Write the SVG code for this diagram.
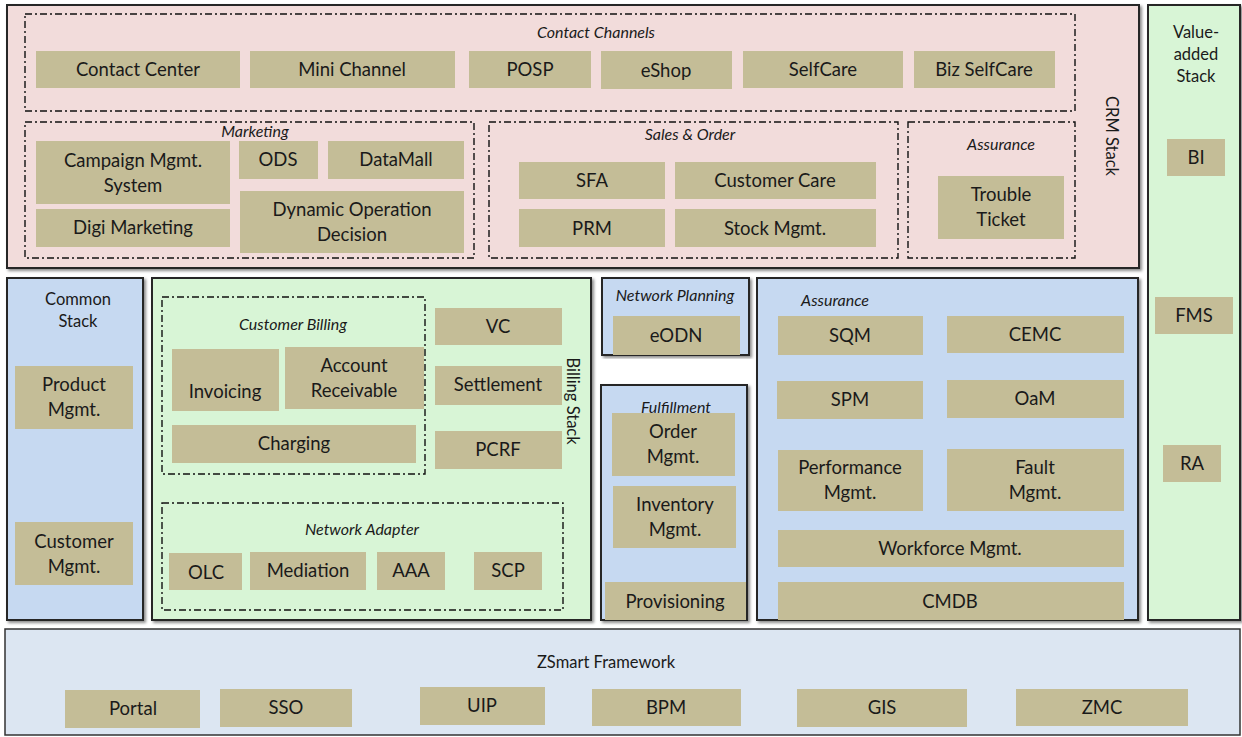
<svg xmlns="http://www.w3.org/2000/svg" width="1242" height="737" viewBox="0 0 1242 737">
  <defs>
    <filter id="shadow" x="-5%" y="-5%" width="110%" height="110%">
      <feDropShadow dx="2" dy="2" stdDeviation="1.5" flood-color="#000" flood-opacity="0.45"/>
    </filter>
    <style>
      .panel { stroke: #262626; stroke-width: 2; filter: url(#shadow); }
      .crm { fill: #f2dcdb; }
      .green { fill: #d8f5d6; }
      .blue { fill: #c6d9f1; }
      .group { fill: none; stroke: #111; stroke-width: 1.4; stroke-dasharray: 7 3 2 3; }
      .box { fill: #c4bd97; }
      .t { font-family: Lato, "Open Sans", "Liberation Sans", sans-serif; font-size: 18.5px; fill: #1a1a1a; text-anchor: middle; }
      .lbl { font-family: Lato, "Open Sans", "Liberation Sans", sans-serif; font-size: 16px; font-style: italic; fill: #1a1a1a; text-anchor: middle; }
      .st { font-family: Lato, "Open Sans", "Liberation Sans", sans-serif; font-size: 16.5px; fill: #1a1a1a; text-anchor: middle; }
    </style>
  </defs>

  <!-- CRM stack -->
  <g id="crm-stack">
    <rect class="panel crm" x="7" y="5" width="1132" height="263"/>
    <text class="st" transform="translate(1106,136) rotate(90)">CRM Stack</text>
  </g>
  <g id="contact-channels">
    <rect class="group" x="25" y="14" width="1050" height="97"/>
    <text class="lbl" x="596" y="38">Contact Channels</text>
  </g>
  <g id="contact-center"><rect class="box" x="36" y="51" width="204" height="37"/><text class="t" x="138" y="76">Contact Center</text></g>
  <g id="mini-channel"><rect class="box" x="250" y="51" width="205" height="37"/><text class="t" x="352" y="76">Mini Channel</text></g>
  <g id="posp"><rect class="box" x="469" y="51" width="122" height="37"/><text class="t" x="530" y="76">POSP</text></g>
  <g id="eshop"><rect class="box" x="601" y="51" width="131" height="38"/><text class="t" x="666" y="77">eShop</text></g>
  <g id="selfcare"><rect class="box" x="743" y="51" width="160" height="37"/><text class="t" x="823" y="76">SelfCare</text></g>
  <g id="biz-selfcare"><rect class="box" x="914" y="51" width="141" height="37"/><text class="t" x="984" y="76">Biz SelfCare</text></g>

  <g id="marketing">
    <rect class="group" x="25" y="122" width="449" height="136"/>
    <text class="lbl" x="255" y="137">Marketing</text>
  </g>
  <g id="campaign"><rect class="box" x="36" y="141" width="194" height="63"/><text class="t" x="133" y="167">Campaign Mgmt.</text><text class="t" x="133" y="192">System</text></g>
  <g id="ods"><rect class="box" x="239" y="141" width="79" height="38"/><text class="t" x="278" y="166">ODS</text></g>
  <g id="datamall"><rect class="box" x="328" y="141" width="136" height="38"/><text class="t" x="396" y="166">DataMall</text></g>
  <g id="digi-marketing"><rect class="box" x="36" y="209" width="194" height="38"/><text class="t" x="133" y="234">Digi Marketing</text></g>
  <g id="dod"><rect class="box" x="240" y="191" width="224" height="62"/><text class="t" x="352" y="216">Dynamic  Operation</text><text class="t" x="352" y="241">Decision</text></g>

  <g id="sales-order">
    <rect class="group" x="489" y="122" width="409" height="136"/>
    <text class="lbl" x="690" y="140">Sales &amp; Order</text>
  </g>
  <g id="sfa"><rect class="box" x="519" y="162" width="146" height="37"/><text class="t" x="592" y="187">SFA</text></g>
  <g id="customer-care"><rect class="box" x="675" y="162" width="201" height="37"/><text class="t" x="775" y="187">Customer Care</text></g>
  <g id="prm"><rect class="box" x="519" y="209" width="146" height="38"/><text class="t" x="592" y="235">PRM</text></g>
  <g id="stock"><rect class="box" x="675" y="209" width="201" height="38"/><text class="t" x="775" y="235">Stock Mgmt.</text></g>

  <g id="crm-assurance">
    <rect class="group" x="908" y="122" width="167" height="136"/>
    <text class="lbl" x="1001" y="150">Assurance</text>
  </g>
  <g id="trouble-ticket"><rect class="box" x="938" y="176" width="126" height="63"/><text class="t" x="1001" y="201">Trouble</text><text class="t" x="1001" y="226">Ticket</text></g>

  <!-- Value-added stack -->
  <g id="value-added-stack">
    <rect class="panel green" x="1148" y="5" width="92" height="615"/>
    <text class="st" x="1196" y="38">Value-</text>
    <text class="st" x="1196" y="60">added</text>
    <text class="st" x="1196" y="82">Stack</text>
  </g>
  <g id="bi"><rect class="box" x="1167" y="139" width="58" height="37"/><text class="t" x="1196" y="164">BI</text></g>
  <g id="fms"><rect class="box" x="1155" y="297" width="78" height="37"/><text class="t" x="1194" y="322">FMS</text></g>
  <g id="ra"><rect class="box" x="1163" y="445" width="58" height="37"/><text class="t" x="1192" y="470">RA</text></g>

  <!-- Common stack -->
  <g id="common-stack">
    <rect class="panel blue" x="7" y="278" width="136" height="342"/>
    <text class="st" x="78" y="305">Common</text>
    <text class="st" x="78" y="327">Stack</text>
  </g>
  <g id="product-mgmt"><rect class="box" x="15" y="366" width="118" height="63"/><text class="t" x="74" y="391">Product</text><text class="t" x="74" y="416">Mgmt.</text></g>
  <g id="customer-mgmt"><rect class="box" x="15" y="522" width="118" height="63"/><text class="t" x="74" y="548">Customer</text><text class="t" x="74" y="573">Mgmt.</text></g>

  <!-- Billing stack -->
  <g id="billing-stack">
    <rect class="panel green" x="152" y="278" width="439" height="342"/>
    <text class="st" transform="translate(567,401) rotate(90)">Billing Stack</text>
  </g>
  <g id="customer-billing">
    <rect class="group" x="162" y="297" width="263" height="177"/>
    <text class="lbl" x="293" y="330">Customer Billing</text>
  </g>
  <g id="invoicing"><rect class="box" x="172" y="349" width="107" height="62"/><text class="t" x="225" y="398">Invoicing</text></g>
  <g id="account-receivable"><rect class="box" x="285" y="347" width="139" height="62"/><text class="t" x="354" y="372">Account</text><text class="t" x="354" y="397">Receivable</text></g>
  <g id="charging"><rect class="box" x="172" y="425" width="244" height="38"/><text class="t" x="294" y="450">Charging</text></g>
  <g id="vc"><rect class="box" x="435" y="308" width="127" height="37"/><text class="t" x="498" y="333">VC</text></g>
  <g id="settlement"><rect class="box" x="435" y="366" width="127" height="39"/><text class="t" x="498" y="391">Settlement</text></g>
  <g id="pcrf"><rect class="box" x="435" y="431" width="127" height="38"/><text class="t" x="498" y="456">PCRF</text></g>

  <g id="network-adapter">
    <rect class="group" x="162" y="503" width="401" height="107"/>
    <text class="lbl" x="362" y="535">Network Adapter</text>
  </g>
  <g id="olc"><rect class="box" x="169" y="553" width="73" height="37"/><text class="t" x="206" y="579">OLC</text></g>
  <g id="mediation"><rect class="box" x="250" y="552" width="116" height="38"/><text class="t" x="308" y="577">Mediation</text></g>
  <g id="aaa"><rect class="box" x="377" y="552" width="68" height="38"/><text class="t" x="411" y="577">AAA</text></g>
  <g id="scp"><rect class="box" x="474" y="552" width="68" height="38"/><text class="t" x="508" y="577">SCP</text></g>

  <!-- Network planning -->
  <g id="network-planning">
    <rect class="panel blue" x="602" y="278" width="147" height="77"/>
    <text class="lbl" x="675" y="301">Network Planning</text>
  </g>
  <g id="eodn"><rect class="box" x="613" y="316" width="127" height="39"/><text class="t" x="676" y="342">eODN</text></g>

  <!-- Fulfillment -->
  <g id="fulfillment">
    <rect class="panel blue" x="601" y="385" width="146" height="235"/>
    <text class="lbl" x="676" y="413">Fulfillment</text>
  </g>
  <g id="order-mgmt"><rect class="box" x="612" y="413" width="123" height="63"/><text class="t" x="673" y="438">Order</text><text class="t" x="673" y="463">Mgmt.</text></g>
  <g id="inventory-mgmt"><rect class="box" x="613" y="486" width="123" height="62"/><text class="t" x="675" y="511">Inventory</text><text class="t" x="675" y="536">Mgmt.</text></g>
  <g id="provisioning"><rect class="box" x="605" y="582" width="141" height="38"/><text class="t" x="675" y="608">Provisioning</text></g>

  <!-- Assurance -->
  <g id="assurance">
    <rect class="panel blue" x="757" y="278" width="381" height="342"/>
    <text class="lbl" x="835" y="306">Assurance</text>
  </g>
  <g id="sqm"><rect class="box" x="778" y="316" width="145" height="39"/><text class="t" x="850" y="342">SQM</text></g>
  <g id="cemc"><rect class="box" x="947" y="316" width="177" height="37"/><text class="t" x="1035" y="341">CEMC</text></g>
  <g id="spm"><rect class="box" x="777" y="381" width="146" height="38"/><text class="t" x="850" y="406">SPM</text></g>
  <g id="oam"><rect class="box" x="947" y="380" width="177" height="38"/><text class="t" x="1035" y="405">OaM</text></g>
  <g id="performance-mgmt"><rect class="box" x="778" y="450" width="145" height="61"/><text class="t" x="850" y="474">Performance</text><text class="t" x="850" y="499">Mgmt.</text></g>
  <g id="fault-mgmt"><rect class="box" x="947" y="449" width="177" height="62"/><text class="t" x="1035" y="474">Fault</text><text class="t" x="1035" y="499">Mgmt.</text></g>
  <g id="workforce-mgmt"><rect class="box" x="778" y="530" width="346" height="37"/><text class="t" x="950" y="555">Workforce Mgmt.</text></g>
  <g id="cmdb"><rect class="box" x="778" y="582" width="346" height="38"/><text class="t" x="950" y="608">CMDB</text></g>

  <!-- ZSmart framework -->
  <g id="zsmart-framework">
    <rect x="5" y="629" width="1235" height="106" fill="#dce6f2" stroke="#333" stroke-width="1.5"/>
    <text class="st" x="606" y="668">ZSmart Framework</text>
  </g>
  <g id="portal"><rect class="box" x="65" y="690" width="135" height="38"/><text class="t" x="133" y="715">Portal</text></g>
  <g id="sso"><rect class="box" x="220" y="689" width="132" height="38"/><text class="t" x="286" y="714">SSO</text></g>
  <g id="uip"><rect class="box" x="420" y="687" width="125" height="38"/><text class="t" x="482" y="712">UIP</text></g>
  <g id="bpm"><rect class="box" x="592" y="689" width="149" height="37"/><text class="t" x="666" y="714">BPM</text></g>
  <g id="gis"><rect class="box" x="797" y="689" width="170" height="38"/><text class="t" x="882" y="714">GIS</text></g>
  <g id="zmc"><rect class="box" x="1016" y="689" width="172" height="37"/><text class="t" x="1102" y="714">ZMC</text></g>

  <!-- no connectors between layers -->
  <g id="connectors"/>
</svg>
